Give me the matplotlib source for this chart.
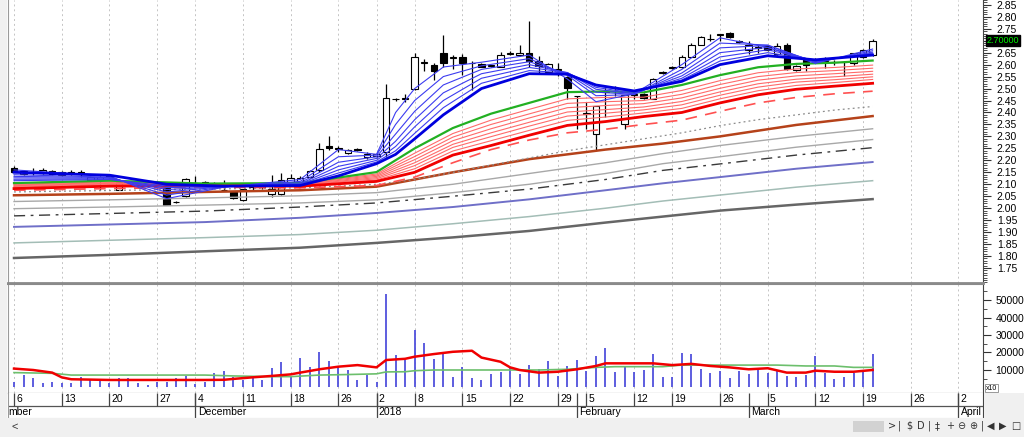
import numpy as np
import matplotlib.pyplot as plt
import matplotlib.transforms as mtransforms
from matplotlib.patches import Rectangle

plt.rcParams['font.family'] = ['Liberation Sans', 'DejaVu Sans']

# daily bars, Nov 6 2017 .. Mar 20 2018 (bar index 0..90)
opens = [2.170, 2.145, 2.150, 2.147, 2.156, 2.151, 2.148, 2.150, 2.119, 2.117,
         2.137, 2.078, 2.108, 2.103, 2.104, 2.092, 2.086, 2.026, 2.050, 2.103,
         2.110, 2.097, 2.075, 2.068, 2.036, 2.089, 2.089, 2.060, 2.058, 2.105,
         2.110, 2.131, 2.158, 2.258, 2.250, 2.230, 2.249, 2.214, 2.217, 2.235,
         2.455, 2.458, 2.499, 2.608, 2.600, 2.650, 2.627, 2.631, 2.605, 2.603,
         2.595, 2.592, 2.646, 2.640, 2.649, 2.614, 2.568, 2.577, 2.550, 2.468,
         2.394, 2.311, 2.487, 2.488, 2.353, 2.475, 2.478, 2.457, 2.567, 2.584,
         2.589, 2.633, 2.683, 2.706, 2.724, 2.732, 2.700, 2.661, 2.671, 2.679,
         2.644, 2.683, 2.578, 2.620, 2.615, 2.616, 2.610, 2.610, 2.606, 2.631,
         2.640]
highs = [2.175, 2.160, 2.170, 2.170, 2.160, 2.155, 2.160, 2.160, 2.135, 2.135,
         2.140, 2.115, 2.115, 2.110, 2.117, 2.100, 2.090, 2.030, 2.125, 2.133,
         2.115, 2.110, 2.116, 2.072, 2.082, 2.095, 2.095, 2.137, 2.147, 2.142,
         2.135, 2.160, 2.272, 2.300, 2.262, 2.248, 2.252, 2.235, 2.232, 2.520,
         2.462, 2.478, 2.647, 2.625, 2.605, 2.725, 2.642, 2.645, 2.615, 2.608,
         2.600, 2.652, 2.655, 2.682, 2.783, 2.637, 2.605, 2.605, 2.552, 2.470,
         2.443, 2.429, 2.505, 2.512, 2.471, 2.490, 2.482, 2.545, 2.575, 2.595,
         2.640, 2.690, 2.720, 2.727, 2.728, 2.735, 2.703, 2.697, 2.680, 2.682,
         2.690, 2.690, 2.600, 2.627, 2.628, 2.630, 2.620, 2.615, 2.650, 2.665,
         2.707]
lows = [2.150, 2.140, 2.140, 2.145, 2.140, 2.135, 2.140, 2.130, 2.115, 2.078,
        2.125, 2.075, 2.100, 2.095, 2.090, 2.085, 2.012, 2.020, 2.045, 2.090,
        2.100, 2.085, 2.070, 2.040, 2.030, 2.070, 2.080, 2.047, 2.055, 2.100,
        2.105, 2.128, 2.150, 2.245, 2.235, 2.225, 2.240, 2.205, 2.210, 2.215,
        2.450, 2.445, 2.492, 2.575, 2.535, 2.590, 2.582, 2.558, 2.494, 2.590,
        2.590, 2.588, 2.640, 2.638, 2.590, 2.562, 2.565, 2.553, 2.457, 2.332,
        2.332, 2.242, 2.380, 2.470, 2.332, 2.455, 2.458, 2.455, 2.560, 2.580,
        2.585, 2.630, 2.680, 2.700, 2.700, 2.712, 2.690, 2.645, 2.650, 2.655,
        2.640, 2.578, 2.575, 2.575, 2.610, 2.585, 2.600, 2.554, 2.600, 2.628,
        2.638]
closes = [2.151, 2.156, 2.152, 2.161, 2.145, 2.140, 2.150, 2.148, 2.130, 2.130,
          2.130, 2.110, 2.110, 2.104, 2.103, 2.093, 2.012, 2.025, 2.120, 2.104,
          2.103, 2.096, 2.076, 2.044, 2.082, 2.090, 2.090, 2.082, 2.119, 2.128,
          2.128, 2.155, 2.249, 2.251, 2.249, 2.244, 2.242, 2.228, 2.228, 2.460,
          2.456, 2.460, 2.630, 2.610, 2.572, 2.606, 2.628, 2.606, 2.606, 2.592,
          2.597, 2.642, 2.647, 2.648, 2.617, 2.596, 2.603, 2.578, 2.501, 2.467,
          2.395, 2.429, 2.489, 2.490, 2.471, 2.476, 2.461, 2.540, 2.569, 2.589,
          2.633, 2.683, 2.714, 2.708, 2.725, 2.714, 2.693, 2.683, 2.672, 2.661,
          2.679, 2.582, 2.596, 2.600, 2.621, 2.617, 2.611, 2.611, 2.649, 2.661,
          2.700]
volume = [3300, 7100, 5200, 2400, 3300, 2800, 2800, 5800, 4300, 4300,
          2800, 5200, 5200, 2800, 1400, 3300, 3300, 5200, 6600, 2000,
          3300, 8100, 9600, 5800, 4300, 5200, 4300, 11000, 14800, 6600,
          16700, 11500, 20100, 15300, 11500, 10000, 4300, 7100, 3300, 53400,
          18600, 15700, 32900, 25600, 16100, 19900, 5800, 11500, 5200, 4300,
          7500, 9000, 11000, 7700, 12900, 10400, 15100, 6600, 12300, 15700,
          9600, 18000, 22400, 9000, 12300, 9000, 10000, 19100, 6200, 5800,
          19900, 19100, 10400, 8500, 9400, 5200, 9600, 7500, 10400, 8500,
          9600, 6600, 5800, 7100, 18000, 8500, 4800, 6200, 8500, 10000,
          19100]

# short averages (blue group), read at these bars
blue_x = [0, 10, 16, 22, 30, 34, 38, 40, 42, 45, 49, 54, 58, 61, 65, 70, 74, 79, 84, 90]
blue1 = [2.160, 2.135, 2.040, 2.088, 2.120, 2.245, 2.225, 2.400, 2.500, 2.590, 2.610, 2.640, 2.540, 2.445, 2.478, 2.600, 2.712, 2.672, 2.605, 2.665]
blue2 = [2.140, 2.130, 2.055, 2.089, 2.112, 2.215, 2.222, 2.350, 2.450, 2.550, 2.595, 2.625, 2.555, 2.470, 2.475, 2.580, 2.690, 2.682, 2.608, 2.658]
blue3 = [2.133, 2.128, 2.068, 2.090, 2.106, 2.192, 2.215, 2.310, 2.405, 2.515, 2.580, 2.612, 2.562, 2.485, 2.476, 2.565, 2.670, 2.680, 2.611, 2.652]
blue4 = [2.127, 2.125, 2.078, 2.090, 2.102, 2.175, 2.208, 2.280, 2.370, 2.482, 2.562, 2.600, 2.566, 2.497, 2.478, 2.553, 2.650, 2.672, 2.614, 2.648]
blue5 = [2.121, 2.122, 2.086, 2.091, 2.099, 2.160, 2.200, 2.258, 2.340, 2.450, 2.543, 2.588, 2.567, 2.505, 2.481, 2.543, 2.632, 2.662, 2.617, 2.645]
blue6 = [2.115, 2.120, 2.093, 2.091, 2.097, 2.147, 2.193, 2.240, 2.313, 2.420, 2.522, 2.575, 2.565, 2.512, 2.486, 2.536, 2.615, 2.650, 2.619, 2.642]
blue_thick = [2.150, 2.138, 2.100, 2.092, 2.095, 2.135, 2.186, 2.225, 2.290, 2.390, 2.500, 2.562, 2.560, 2.515, 2.490, 2.530, 2.600, 2.637, 2.620, 2.640]

# green + red group + dotted
red_x = [0, 10, 20, 30, 38, 42, 46, 50, 54, 58, 62, 66, 70, 74, 78, 82, 86, 90]
green = [2.105, 2.115, 2.103, 2.105, 2.151, 2.250, 2.335, 2.395, 2.440, 2.485, 2.488, 2.484, 2.515, 2.556, 2.589, 2.603, 2.608, 2.617]
red1 = [2.100, 2.110, 2.101, 2.102, 2.143, 2.230, 2.312, 2.368, 2.413, 2.457, 2.463, 2.464, 2.492, 2.533, 2.566, 2.582, 2.588, 2.598]
red2 = [2.097, 2.107, 2.100, 2.101, 2.138, 2.216, 2.297, 2.350, 2.394, 2.438, 2.445, 2.450, 2.476, 2.517, 2.550, 2.567, 2.575, 2.585]
red3 = [2.094, 2.104, 2.099, 2.099, 2.133, 2.203, 2.282, 2.332, 2.377, 2.420, 2.429, 2.437, 2.461, 2.501, 2.535, 2.553, 2.562, 2.572]
red4 = [2.091, 2.101, 2.098, 2.097, 2.128, 2.190, 2.267, 2.315, 2.359, 2.402, 2.412, 2.423, 2.446, 2.486, 2.520, 2.539, 2.549, 2.560]
red5 = [2.088, 2.098, 2.097, 2.096, 2.123, 2.178, 2.254, 2.299, 2.343, 2.385, 2.397, 2.411, 2.432, 2.472, 2.506, 2.527, 2.537, 2.549]
red6 = [2.085, 2.095, 2.096, 2.094, 2.118, 2.165, 2.239, 2.282, 2.325, 2.367, 2.381, 2.398, 2.417, 2.457, 2.491, 2.513, 2.525, 2.538]
red_thick = [2.082, 2.092, 2.095, 2.092, 2.112, 2.150, 2.222, 2.262, 2.305, 2.346, 2.362, 2.383, 2.400, 2.440, 2.474, 2.497, 2.510, 2.522]
red_dash = [2.075, 2.082, 2.088, 2.085, 2.095, 2.130, 2.190, 2.245, 2.285, 2.315, 2.330, 2.350, 2.368, 2.405, 2.440, 2.463, 2.478, 2.489]
dotted = [2.068, 2.074, 2.080, 2.085, 2.100, 2.120, 2.150, 2.180, 2.210, 2.240, 2.265, 2.290, 2.315, 2.345, 2.370, 2.390, 2.410, 2.425]

# long averages
slow_x = [0, 10, 20, 30, 38, 46, 54, 62, 68, 74, 82, 90]
brown = [2.054, 2.060, 2.068, 2.075, 2.090, 2.150, 2.205, 2.245, 2.270, 2.300, 2.348, 2.385]
gray1 = [2.028, 2.035, 2.043, 2.052, 2.065, 2.100, 2.145, 2.190, 2.228, 2.262, 2.300, 2.332]
gray2 = [1.998, 2.005, 2.013, 2.022, 2.035, 2.065, 2.100, 2.145, 2.186, 2.215, 2.255, 2.287]
dashdot = [1.968, 1.978, 1.988, 2.005, 2.022, 2.050, 2.080, 2.120, 2.158, 2.185, 2.222, 2.253]
bluep = [1.922, 1.932, 1.942, 1.960, 1.980, 2.005, 2.037, 2.075, 2.104, 2.130, 2.165, 2.193]
teal = [1.855, 1.866, 1.877, 1.890, 1.908, 1.935, 1.965, 2.000, 2.030, 2.055, 2.088, 2.115]
darkgray = [1.792, 1.805, 1.820, 1.835, 1.855, 1.878, 1.905, 1.940, 1.965, 1.990, 2.015, 2.038]

# volume averages
vr_x = [0, 2, 4, 5, 6, 10, 15, 20, 22, 23, 25, 27, 29, 30, 32, 34, 36, 38, 39, 41, 42, 44, 46, 48,
        49, 51, 52, 53, 55, 57, 59, 61, 62, 65, 67, 69, 71, 73, 75, 77, 79, 81, 83, 84, 86, 88, 90]
vol_red = [10800, 10000, 8500, 5800, 4700, 4300, 4300, 4300, 4400, 4900, 5800, 6600, 7500, 8500,
           10400, 11900, 12800, 11500, 15700, 16400, 17600, 19100, 20400, 21000, 17100, 14700,
           11500, 10000, 8500, 9000, 10400, 12300, 13800, 13800, 13800, 12800, 13500, 12300,
           11500, 10400, 11000, 8500, 8500, 9600, 9000, 9000, 10000]
vg_x = [0, 4, 6, 20, 23, 27, 29, 32, 35, 38, 39, 41, 42, 44, 52, 55, 58, 61, 63, 68, 70, 80, 83, 86, 88, 90]
vol_green = [8500, 8100, 7100, 7100, 6600, 6200, 6200, 7100, 7400, 7800, 8900, 9000, 9600, 10000,
             10000, 10000, 10400, 11500, 11900, 11900, 12800, 12800, 12300, 12300, 11500, 11500]

# date axis
day_idx = [0, 5, 10, 15, 19, 24, 29, 34, 38, 42, 47, 52, 57, 60, 65, 69, 74, 79, 84, 89, 94, 99]
day_lbl = ['6', '13', '20', '27', '4', '11', '18', '26', '2', '8', '15', '22', '29', '5', '12',
           '19', '26', '5', '12', '19', '26', '2']
month_idx = [19, 38, 59, 77, 99]
month_lbl = ['December', '2018', 'February', 'March', 'April']

W, H = 1024, 437
fig = plt.figure(figsize=(W / 100, H / 100), dpi=100, facecolor='white')


def fx(px):
    return px / W


def fy(py):
    return 1 - py / H


X0, X1 = 8, 983
ax = fig.add_axes([fx(X0), fy(283), fx(X1 - X0), 283 / H])
axv = fig.add_axes([fx(X0), fy(393), fx(X1 - X0), (393 - 284) / H])
axd = fig.add_axes([fx(X0), fy(418), fx(X1 - X0), 25 / H])
XL = (-0.63, 101.57)

# ---- price pane ----
for d in day_idx:
    ax.axvline(d, color='#c4c4c4', lw=0.7, ls=(0, (2, 3)), zorder=0)
    axv.axvline(d, color='#c4c4c4', lw=0.7, ls=(0, (2, 3)), zorder=0)

idx = np.arange(len(closes))
o = np.array(opens)
c = np.array(closes)
up = c >= o
lo = np.minimum(o, c)
bh = np.maximum(np.abs(c - o), 0.003)
ax.vlines(idx, lows, highs, color='black', lw=0.9, zorder=2)
ax.bar(idx[up], bh[up], bottom=lo[up], width=0.68, color='white', edgecolor='black', lw=0.8, zorder=3)
ax.bar(idx[~up], bh[~up], bottom=lo[~up], width=0.68, color='black', edgecolor='black', lw=0.8, zorder=3)

ax.plot(slow_x, darkgray, color='#666666', lw=1.8, zorder=4)
ax.plot(slow_x, teal, color='#a3bdb6', lw=1.1, zorder=4)
ax.plot(slow_x, bluep, color='#6f6fc8', lw=1.4, zorder=4)
ax.plot(slow_x, dashdot, color='#3a3a3a', lw=1.0, ls=(0, (8, 4, 2, 4)), zorder=4)
ax.plot(slow_x, gray2, color='#a8a8a8', lw=1.0, zorder=4)
ax.plot(slow_x, gray1, color='#a8a8a8', lw=1.0, zorder=4)
ax.plot(slow_x, brown, color='#b5421a', lw=1.8, zorder=4)
ax.plot(red_x, dotted, color='#8c8c8c', lw=0.9, ls=(0, (1.5, 2.5)), zorder=4)
ax.plot(red_x, red_dash, color='#ff5050', lw=1.2, ls=(0, (7, 5)), zorder=5)
for r in [red6, red5, red4, red3, red2, red1]:
    ax.plot(red_x, r, color='#ff6a6a', lw=0.8, zorder=5)
ax.plot(red_x, red_thick, color='#f00000', lw=2.0, zorder=5)
ax.plot(red_x, green, color='#22b022', lw=1.6, zorder=6)
for b in [blue6, blue5, blue4, blue3, blue2, blue1]:
    ax.plot(blue_x, b, color='#3c3cf0', lw=0.8, zorder=7)
ax.plot(blue_x, blue_thick, color='#0000dd', lw=2.0, zorder=7)

ax.set_xlim(*XL)
ax.set_ylim(2.85 - 279 / 240, 2.85 + 4 / 240)
ax.set_xticks([])
ax.yaxis.tick_right()
ticks = np.round(np.arange(1.75, 2.851, 0.05), 2)
ax.set_yticks(ticks)
ax.set_yticklabels(['' if abs(t - 2.70) < 1e-6 else '%.2f' % t for t in ticks])
ax.set_yticks(np.round(np.arange(1.69, 2.87, 0.01), 2), minor=True)
ax.tick_params(axis='y', which='major', direction='out', length=6, width=0.8,
               color='#333333', labelsize=7.5, pad=4)
ax.tick_params(axis='y', which='minor', direction='out', length=3, width=0.6, color='#333333')
ax.spines['top'].set_visible(False)
ax.spines['left'].set_color('#9a9a9a')
ax.spines['right'].set_color('#444444')
ax.spines['bottom'].set_color('#8a8a8a')
ax.spines['bottom'].set_linewidth(2)

tr = mtransforms.blended_transform_factory(ax.transAxes, ax.transData)
ax.text(1.004, 2.70, '2.70000', transform=tr, fontsize=6.5, color='#00ee00', va='center',
        ha='left', bbox=dict(facecolor='black', edgecolor='black', pad=0.8), clip_on=False)

# ---- volume pane ----
axv.vlines(idx, 0, volume, color='#5050dc', lw=1.3, zorder=2)
axv.plot(vg_x, vol_green, color='#6cbf6c', lw=1.2, zorder=3)
axv.plot(vr_x, vol_red, color='#f00000', lw=1.8, zorder=4)
axv.set_xlim(*XL)
axv.set_ylim(-3150, 59150)
axv.set_xticks([])
axv.yaxis.tick_right()
axv.set_yticks([10000, 20000, 30000, 40000, 50000])
axv.set_yticklabels(['10000', '20000', '30000', '40000', '50000'])
axv.set_yticks(np.arange(5000, 58000, 5000), minor=True)
axv.tick_params(axis='y', which='major', direction='out', length=6, width=0.8,
                color='#333333', labelsize=7.5, pad=3)
axv.tick_params(axis='y', which='minor', direction='out', length=3, width=0.6, color='#333333')
axv.spines['top'].set_color('#8a8a8a')
axv.spines['top'].set_linewidth(1.5)
axv.spines['left'].set_color('#9a9a9a')
axv.spines['right'].set_color('#444444')
axv.spines['bottom'].set_color('#444444')
fig.text(fx(986), fy(388), 'x10', fontsize=5, va='center', ha='left',
         bbox=dict(facecolor='white', edgecolor='#888888', lw=0.6, pad=0.6))

# ---- date band ----
axd.set_xlim(*XL)
axd.set_ylim(0, 1)
axd.set_xticks([])
axd.set_yticks([])
axd.axhline(0.5, color='#555555', lw=0.9)
axd.vlines(day_idx, 0.5, 1, color='#444444', lw=0.9)
axd.vlines(month_idx, 0, 1, color='#444444', lw=0.9)
for d, t in zip(day_idx, day_lbl):
    axd.text(d + 0.25, 0.74, t, fontsize=7.5, va='center', ha='left')
for m, t in zip(month_idx, month_lbl):
    axd.text(m + 0.25, 0.24, t, fontsize=7.5, va='center', ha='left')
# month of the first bars, its start lies left of the window
axd.text(-0.55, 0.24, 'mber', fontsize=7.5, va='center', ha='left')
axd.spines['top'].set_visible(False)
axd.spines['bottom'].set_color('#d8d8d8')
axd.spines['left'].set_color('#9a9a9a')
axd.spines['right'].set_color('#444444')

# ---- window chrome ----
gray = '#f0f0f0'
fig.patches.append(Rectangle((0, 0), fx(7), 1, transform=fig.transFigure, facecolor=gray, edgecolor='none'))
fig.patches.append(Rectangle((0, 0), 1, 19 / H, transform=fig.transFigure, facecolor=gray, edgecolor='none'))
fig.patches.append(Rectangle((fx(984), 0), fx(40), (437 - 393) / H, transform=fig.transFigure,
                             facecolor=gray, edgecolor='none'))
fig.patches.append(Rectangle((fx(853), fy(432)), fx(31), 11 / H, transform=fig.transFigure,
                             facecolor='#d2d2d2', edgecolor='none'))
fig.text(fx(12), fy(427), '<', fontsize=8, va='center', color='#333333')
icons = [(888, '>'), (898, '|'), (906, '$'), (917, 'D'), (928, '|'), (935, '‡'), (946, '+'),
         (957, '⊖'), (969, '⊕'), (981, '|'), (987, '◀'), (999, '▶'), (1011, '□')]
for px, g in icons:
    fig.text(fx(px), fy(426), g, fontsize=7, va='center', ha='left', color='#333333',
             family=['DejaVu Sans'])

fig.savefig('out.png', dpi=100, facecolor=fig.get_facecolor())
